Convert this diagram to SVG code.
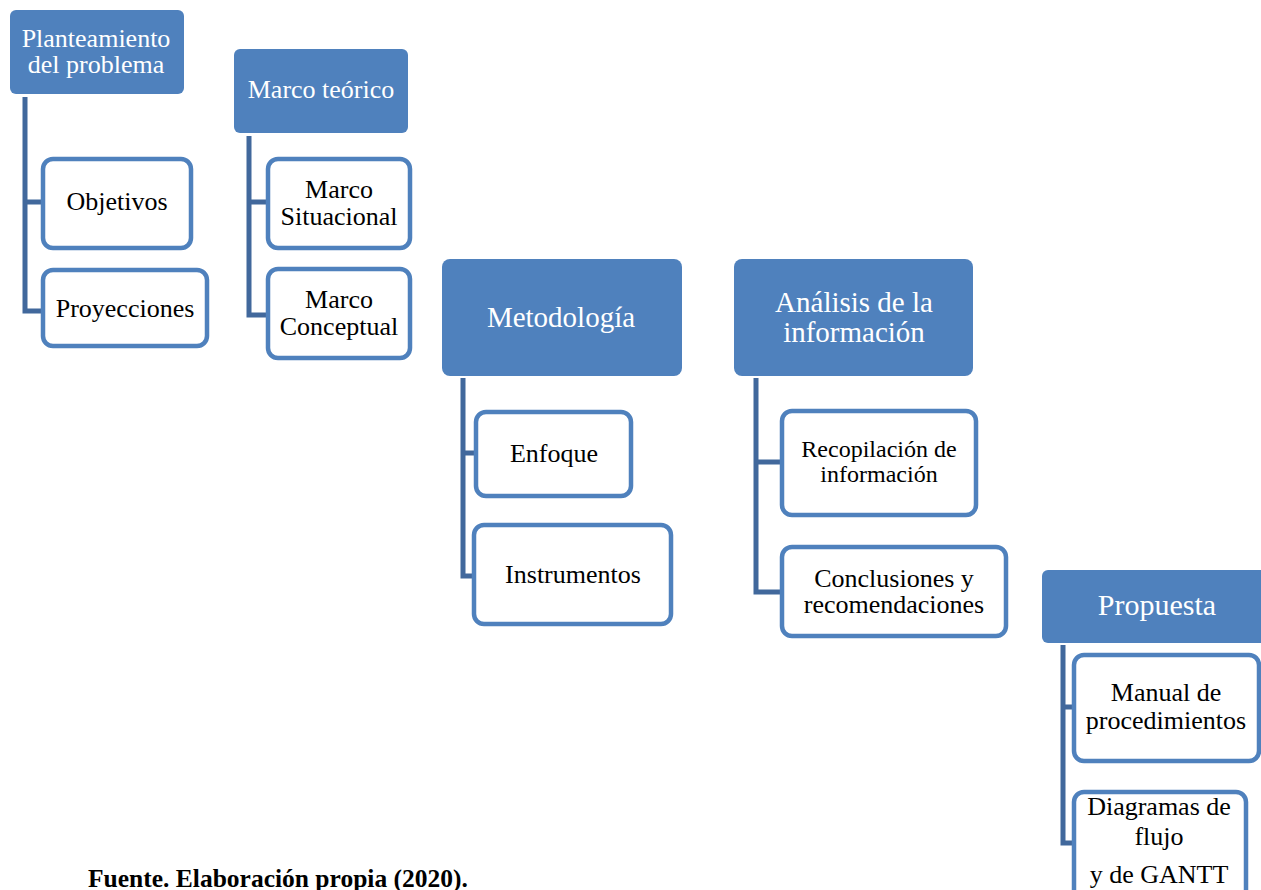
<svg xmlns="http://www.w3.org/2000/svg" width="1261" height="890" viewBox="0 0 1261 890">
  <style>
    .head { fill: #4F81BD; }
    .child { fill: #FFFFFF; stroke: #4F81BD; stroke-width: 4.5; }
    .link { fill: none; stroke: #41689C; stroke-width: 5; stroke-linejoin: miter; }
    text { font-family: "Liberation Serif", "Times New Roman", serif; text-anchor: middle; }
    .ht { fill: #FFFFFF; }
    .ct { fill: #000000; }
  </style>
  <rect width="1261" height="890" fill="#FFFFFF"/>

  <!-- connectors: vertical spine under each header with branches to its children -->
  <g id="connectors">
    <path class="link" d="M25 97 V311 H43 M25 202 H43"/>
    <path class="link" d="M249 136 V315 H268 M249 202 H268"/>
    <path class="link" d="M463 378 V576 H474 M463 453 H476"/>
    <path class="link" d="M756 378 V592 H782 M756 462 H782"/>
    <path class="link" d="M1063 645 V843 H1074 M1063 707 H1074"/>
  </g>

  <!-- column 1 -->
  <g id="planteamiento">
    <rect class="head" x="10" y="10" width="174" height="84" rx="6"/>
    <text class="ht" x="96" y="47" font-size="26">Planteamiento</text>
    <text class="ht" x="96" y="73" font-size="26">del problema</text>
  </g>
  <g id="objetivos">
    <rect class="child" x="43" y="159" width="148" height="89" rx="10"/>
    <text class="ct" x="117" y="210" font-size="26">Objetivos</text>
  </g>
  <g id="proyecciones">
    <rect class="child" x="43" y="270" width="164" height="76" rx="10"/>
    <text class="ct" x="125" y="317" font-size="26">Proyecciones</text>
  </g>

  <!-- column 2 -->
  <g id="marco-teorico">
    <rect class="head" x="234" y="49" width="174" height="84" rx="6"/>
    <text class="ht" x="321" y="98" font-size="26">Marco teórico</text>
  </g>
  <g id="marco-situacional">
    <rect class="child" x="268" y="159" width="142" height="89" rx="10"/>
    <text class="ct" x="339" y="198" font-size="26">Marco</text>
    <text class="ct" x="339" y="225" font-size="26">Situacional</text>
  </g>
  <g id="marco-conceptual">
    <rect class="child" x="268" y="269" width="142" height="89" rx="10"/>
    <text class="ct" x="339" y="308" font-size="26">Marco</text>
    <text class="ct" x="339" y="335" font-size="26">Conceptual</text>
  </g>

  <!-- column 3 -->
  <g id="metodologia">
    <rect class="head" x="442" y="259" width="240" height="117" rx="8"/>
    <text class="ht" x="561" y="327" font-size="29">Metodología</text>
  </g>
  <g id="enfoque">
    <rect class="child" x="476" y="412" width="155" height="84" rx="10"/>
    <text class="ct" x="554" y="462" font-size="26">Enfoque</text>
  </g>
  <g id="instrumentos">
    <rect class="child" x="474" y="525" width="197" height="99" rx="10"/>
    <text class="ct" x="573" y="583" font-size="26">Instrumentos</text>
  </g>

  <!-- column 4 -->
  <g id="analisis">
    <rect class="head" x="734" y="259" width="239" height="117" rx="8"/>
    <text class="ht" x="854" y="312" font-size="29">Análisis de la</text>
    <text class="ht" x="854" y="342" font-size="29">información</text>
  </g>
  <g id="recopilacion">
    <rect class="child" x="782" y="411" width="194" height="104" rx="10"/>
    <text class="ct" x="879" y="457" font-size="24">Recopilación de</text>
    <text class="ct" x="879" y="482" font-size="24">información</text>
  </g>
  <g id="conclusiones">
    <rect class="child" x="782" y="547" width="224" height="89" rx="10"/>
    <text class="ct" x="894" y="587" font-size="26">Conclusiones y</text>
    <text class="ct" x="894" y="613" font-size="26">recomendaciones</text>
  </g>

  <!-- column 5 -->
  <g id="propuesta">
    <rect class="head" x="1042" y="570" width="230" height="73" rx="6"/>
    <text class="ht" x="1157" y="615" font-size="30">Propuesta</text>
  </g>
  <g id="manual">
    <rect class="child" x="1074" y="655" width="185" height="106" rx="10"/>
    <text class="ct" x="1166" y="701" font-size="26">Manual de</text>
    <text class="ct" x="1166" y="729" font-size="26">procedimientos</text>
  </g>
  <g id="diagramas">
    <rect class="child" x="1074" y="792" width="172" height="115" rx="10"/>
    <text class="ct" x="1159" y="815" font-size="26">Diagramas de</text>
    <text class="ct" x="1159" y="845" font-size="26">flujo</text>
    <text class="ct" x="1159" y="883" font-size="26">y de GANTT</text>
  </g>

  <text x="88" y="887" font-size="25.5" font-weight="bold" style="text-anchor:start">Fuente. Elaboración propia (2020).</text>
</svg>
